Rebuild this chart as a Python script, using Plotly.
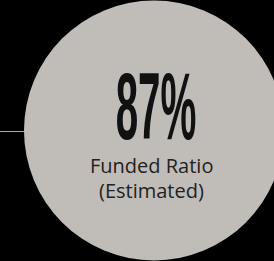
import plotly.graph_objects as go

# Data
metric_value = [87]
metric_suffix = ["%"]
caption_lines = ["Funded Ratio", "(Estimated)"]

W, H = 274, 261
cx, cy, r = 154, 130.5, 130

fig = go.Figure()

fig.add_shape(type="circle", xref="x", yref="y",
              x0=cx - r, x1=cx + r, y0=cy - r, y1=cy + r,
              fillcolor="#c0bcb8", line=dict(width=0), layer="below")
fig.add_shape(type="line", xref="x", yref="y",
              x0=0, x1=cx - r, y0=cy + 1, y1=cy + 1,
              line=dict(color="#a8a8a8", width=1))

fig.add_annotation(x=156, y=106, xref="x", yref="y",
                   text=f"{metric_value[0]}{metric_suffix[0]}",
                   showarrow=False, xanchor="center", yanchor="middle",
                   font=dict(family="Liberation Sans, Arial, sans-serif", size=95,
                             color="#111111", weight="bold"))
fig.add_annotation(x=151, y=165.5, xref="x", yref="y",
                   text=caption_lines[0], showarrow=False,
                   xanchor="center", yanchor="middle",
                   font=dict(family="Open Sans, sans-serif", size=20, color="#222222"))
fig.add_annotation(x=151, y=190.5, xref="x", yref="y",
                   text=caption_lines[1], showarrow=False,
                   xanchor="center", yanchor="middle",
                   font=dict(family="Open Sans, sans-serif", size=20, color="#222222"))

fig.update_layout(
    width=W, height=H, margin=dict(l=0, r=0, t=0, b=0),
    paper_bgcolor="#000000", plot_bgcolor="#000000",
    showlegend=False,
    xaxis=dict(range=[0, W], visible=False, fixedrange=True),
    yaxis=dict(range=[H, 0], visible=False, fixedrange=True),
)

post = """
document.body.style.margin = '0';
document.body.style.background = '#000';
document.body.style.overflow = 'hidden';
document.querySelectorAll('.annotation-text').forEach(function(el){
  if (el.textContent.indexOf('%') >= 0) {
    el.style.transformBox = 'fill-box';
    el.style.transformOrigin = 'center';
    el.style.transform = 'scaleX(0.425)';
  }
});
"""

fig.write_html("out.html", config={"displayModeBar": False}, post_script=post)
